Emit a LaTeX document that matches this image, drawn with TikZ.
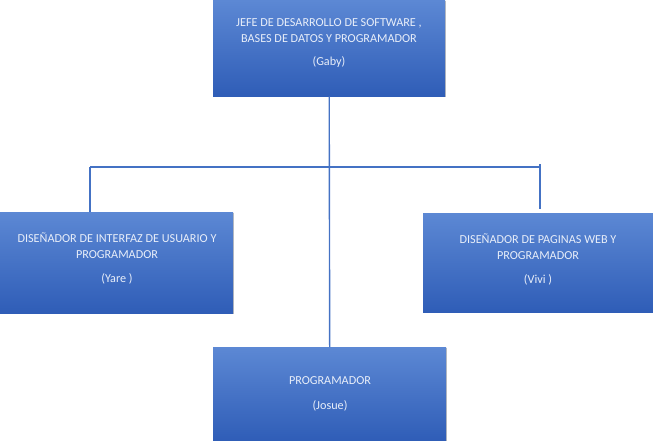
\documentclass[tikz,border=0pt]{standalone}
\usepackage{fontspec}
\setmainfont{Carlito}
\usetikzlibrary{shadows}
\definecolor{boxtop}{RGB}{92,136,212}
\definecolor{boxbot}{RGB}{47,93,183}
\definecolor{linec}{RGB}{68,114,196}
\definecolor{txtc}{RGB}{232,238,249}
\tikzset{
  box/.style={rectangle, inner sep=0pt, top color=boxtop, bottom color=boxbot, draw=none,
    drop shadow={shadow xshift=1.2pt, shadow yshift=-1.2pt, opacity=0.25, fill=black}},
  lbl/.style={text=txtc, font=\fontsize{12.2}{15}\selectfont, align=center, inner sep=0pt, anchor=base},
  conn/.style={draw=linec, line width=1.4pt}
}
\begin{document}
\begin{tikzpicture}[x=1pt,y=-1pt]
\useasboundingbox (0,0) rectangle (653,441);
% boxes
\node[box, minimum width=232pt, minimum height=96pt, anchor=north west] (top) at (213,0) {};
\node[box, minimum width=233pt, minimum height=101pt, anchor=north west] (left) at (0,212) {};
\node[box, minimum width=230pt, minimum height=99pt, anchor=north west] (right) at (423,213) {};
\node[box, minimum width=233pt, minimum height=94pt, anchor=north west] (bot) at (213,347) {};
% connectors
\coordinate (hl) at (90,167);
\coordinate (hr) at (540,167);
\coordinate (hrt) at (540,164);
\draw[conn] (top.south) -- (bot.north);
\draw[conn] (hl) -- (hr);
\draw[conn] (hl |- left.north) -- (hl);
\draw[conn] (hrt) -- ([yshift=4pt]hrt |- right.north);
% texts
\node[lbl] (t1) at (329,27) {JEFE DE DESARROLLO DE SOFTWARE ,};
\node[lbl] (t2) at (329,43) {BASES DE DATOS Y PROGRAMADOR};
\node[lbl] (t3) at (329,66) {(Gaby)};
\node[lbl] (l1) at (117,242) {DISEÑADOR DE INTERFAZ DE USUARIO Y};
\node[lbl] (l2) at (117,258) {PROGRAMADOR};
\node[lbl] (l3) at (117,282) {(Yare )};
\node[lbl] (r1) at (538,243) {DISEÑADOR DE PAGINAS WEB Y};
\node[lbl] (r2) at (538,259) {PROGRAMADOR};
\node[lbl] (r3) at (538,283) {(Vivi )};
\node[lbl] (b1) at (330,384) {PROGRAMADOR};
\node[lbl] (b2) at (330,409) {(Josue)};
\end{tikzpicture}
\end{document}
